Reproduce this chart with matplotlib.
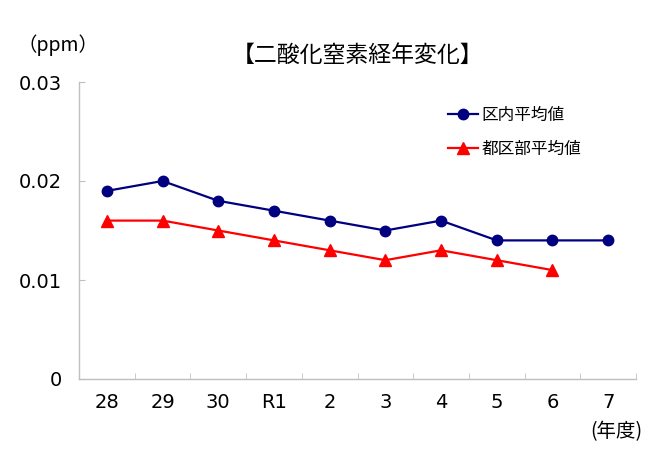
import matplotlib
matplotlib.use("Agg")
import matplotlib.pyplot as plt
import numpy as np

plt.rcParams['font.family'] = ['Noto Sans CJK JP', 'DejaVu Sans']

years = ["28", "29", "30", "R1", "2", "3", "4", "5", "6", "7"]
ku_avg = [0.019, 0.020, 0.018, 0.017, 0.016, 0.015, 0.016, 0.014, 0.014, 0.014]
tokubu_avg = [0.016, 0.016, 0.015, 0.014, 0.013, 0.012, 0.013, 0.012, 0.011, np.nan]
yticks = [0, 0.01, 0.02, 0.03]
ytick_labels = ["0", "0.01", "0.02", "0.03"]

W, H = 661, 453
fig = plt.figure(figsize=(W / 100, H / 100), dpi=100)
ax = fig.add_axes([79 / W, 1 - 379 / H, (636 - 79) / W, (379 - 82) / H])

x = np.arange(len(years))
ax.plot(x, ku_avg, color='#000080', marker='o', markersize=7.5, linewidth=1.6, label='区内平均値')
ax.plot(x, tokubu_avg, color='#FF0000', marker='^', markersize=8, linewidth=1.6, label='都区部平均値')

ax.set_xlim(-0.5, len(years) - 0.5)
ax.set_ylim(0, 0.03)
ax.set_yticks(yticks)
ax.set_yticklabels(ytick_labels, fontsize=14, family='DejaVu Sans')
ax.set_xticks(x)
ax.set_xticklabels(years, fontsize=14, family='DejaVu Sans')
ax.set_xticks(np.arange(len(years) + 1) - 0.5, minor=True)
ax.tick_params(axis='x', which='major', length=0, pad=10)
ax.tick_params(axis='x', which='minor', length=4, color='#BFBFBF', direction='in')
ax.tick_params(axis='y', length=4, color='#BFBFBF', direction='in', pad=12)

for s in ['top', 'right']:
    ax.spines[s].set_visible(False)
for s in ['left', 'bottom']:
    ax.spines[s].set_color('#BFBFBF')
    ax.spines[s].set_linewidth(1.0)

leg = ax.legend(loc='upper left', bbox_to_anchor=(0.635, 0.968), frameon=False,
                fontsize=12, handlelength=1.8, labelspacing=1.05, handletextpad=0.25)

fig.text(358 / W, 1 - 55 / H, '【二酸化窒素経年変化】', fontsize=16.5, ha='center', va='center')
fig.text(58 / W, 1 - 45 / H, '（ppm）', fontsize=14, ha='center', va='center')
fig.text(616 / W, 1 - 432 / H, '(年度)', fontsize=14, ha='center', va='center')

fig.savefig('out.png', dpi=100)
